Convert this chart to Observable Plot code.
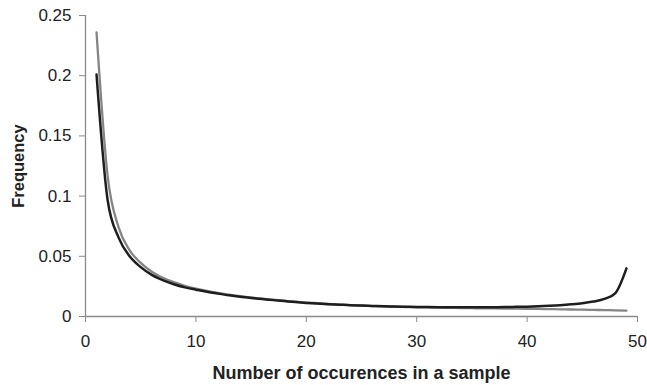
<!DOCTYPE html>
<html><head><meta charset="utf-8">
<script src="https://cdn.jsdelivr.net/npm/d3@7"></script>
<script src="https://cdn.jsdelivr.net/npm/@observablehq/plot@0.6"></script>
<style>
html,body{margin:0;padding:0;background:#fff;}
g[aria-label="x-axis label"] text{font-weight:bold;font-size:18px;}
g[aria-label="y-axis label"] text{font-weight:bold;font-size:16.5px;}
</style>
</head><body><div id="chart"></div>
<script>
const occurrences = [1,2,3,4,5,6,7,8,9,10,11,12,13,14,15,16,17,18,19,20,21,22,23,24,25,26,27,28,29,30,31,32,33,34,35,36,37,38,39,40,41,42,43,44,45,46,47,48,49];
const seriesGray = [0.236,0.117,0.074,0.055,0.0445,0.0372,0.0322,0.0285,0.0255,0.0231,0.0212,0.0196,0.0182,0.0169,0.0158,0.0148,0.0139,0.0131,0.0123,0.0116,0.011,0.0104,0.0099,0.0095,0.0091,0.0087,0.0084,0.0081,0.0079,0.0077,0.0075,0.0073,0.0072,0.007,0.0069,0.0068,0.0067,0.0066,0.0065,0.0064,0.0063,0.0061,0.006,0.0058,0.0057,0.0055,0.0053,0.0051,0.0048];
const seriesDark = [0.201,0.097,0.0655,0.050,0.041,0.0346,0.0302,0.0268,0.0242,0.0223,0.0205,0.019,0.0176,0.0164,0.0154,0.0145,0.0136,0.0128,0.012,0.0113,0.0107,0.0102,0.0098,0.0094,0.0091,0.0088,0.0085,0.0083,0.0081,0.0079,0.0078,0.0077,0.0076,0.0076,0.0076,0.0076,0.0077,0.0078,0.008,0.0082,0.0085,0.0089,0.0094,0.0101,0.011,0.0124,0.0146,0.0195,0.040];
const xTicks = [0,10,20,30,40,50];
const yTicks = [0,0.05,0.1,0.15,0.2,0.25];
const xLabel = "Number of occurences in a sample";
const yLabel = "Frequency";

const gray = occurrences.map((x,i)=>({x, y: seriesGray[i]}));
const dark = occurrences.map((x,i)=>({x, y: seriesDark[i]}));

const chart = Plot.plot({
  width: 647, height: 385,
  marginLeft: 85, marginRight: 10, marginTop: 15, marginBottom: 69,
  style: {fontFamily: "'Liberation Sans', Arial, sans-serif", fontSize: "17px", color: "#222", background: "#fff"},
  x: {domain: [0, 50]},
  y: {domain: [0, 0.25]},
  marks: [
    Plot.ruleX([0], {stroke: "#8a8a8a", strokeWidth: 1.3}),
    Plot.ruleY([0], {stroke: "#8a8a8a", strokeWidth: 1.3}),
    Plot.axisX({ticks: xTicks, tickSize: 6, tickPadding: 12, stroke: "#8a8a8a", label: xLabel, labelAnchor: "center", labelOffset: 62, labelArrow: "none"}),
    Plot.axisY({ticks: yTicks, tickFormat: d => String(d), tickSize: 6, tickPadding: 8, stroke: "#8a8a8a", label: yLabel, labelAnchor: "center", labelOffset: 73, labelArrow: "none"}),
    Plot.line(gray, {x: "x", y: "y", stroke: "#858585", strokeWidth: 2.3, curve: "monotone-x"}),
    Plot.line(dark, {x: "x", y: "y", stroke: "#1e1e1e", strokeWidth: 2.5, curve: "monotone-x"})
  ]
});
document.getElementById("chart").appendChild(chart);
</script>
</body></html>
